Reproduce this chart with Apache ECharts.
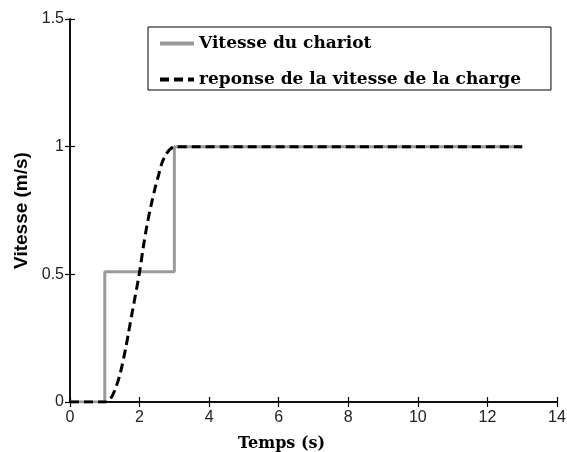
<!DOCTYPE html>
<html>
<head>
<meta charset="utf-8">
<script src="https://cdn.jsdelivr.net/npm/echarts@6/dist/echarts.min.js"></script>
<style>
  html, body { margin: 0; padding: 0; background: #fff; }
  #chart { width: 567px; height: 452px; }
</style>
</head>
<body>
<div id="chart"></div>
<script>
// vitesse du chariot (echelons) et reponse de la charge
let chariot = [[0, 0], [1, 0], [1, 0.51], [3, 0.51], [3, 1], [13, 1]];
let charge = [
  [0, 0], [1, 0], [1.15, 0.01], [1.3, 0.05], [1.44, 0.11], [1.6, 0.21],
  [1.68, 0.27], [1.8, 0.36], [1.99, 0.5], [2.1, 0.6], [2.21, 0.69],
  [2.33, 0.77], [2.45, 0.84], [2.55, 0.89], [2.64, 0.935], [2.76, 0.97],
  [2.88, 0.99], [3, 1], [13, 1]
];
let seriesNames = ['Vitesse du chariot', 'reponse de la vitesse de la charge'];
let xName = 'Temps (s)';
let yName = 'Vitesse (m/s)';

let myChart = echarts.init(document.getElementById('chart'));

let serif = 'DejaVu Serif, Times New Roman, serif';
let axisLine = { show: true, lineStyle: { color: '#000', width: 1.5 } };
let tickIn = { show: true, inside: true, length: 5, lineStyle: { color: '#000', width: 1.2 } };
let labelStyle = { color: '#222', fontSize: 16, fontFamily: 'Liberation Sans, Arial, sans-serif' };

let option = {
  animation: false,
  grid: { left: 70, right: 10, top: 19, bottom: 50, outerBoundsMode: 'none' },
  legend: {
    data: seriesNames,
    orient: 'vertical',
    left: 148,
    top: 27,
    selectedMode: false,
    borderColor: '#000',
    borderWidth: 1,
    padding: [8, 30, 2, 10],
    itemWidth: 34,
    itemHeight: 14,
    itemGap: 19,
    itemStyle: { opacity: 0 },
    lineStyle: { width: 4 },
    textStyle: {
      color: '#000',
      fontSize: 17,
      fontWeight: 'bold',
      fontFamily: serif
    }
  },
  xAxis: [
    {
      type: 'value', min: 0, max: 14, interval: 2,
      axisLine: axisLine, axisTick: tickIn, splitLine: { show: false },
      axisLabel: Object.assign({ margin: 8 }, labelStyle),
      name: xName, nameLocation: 'middle', nameGap: 34,
      nameTextStyle: {
        color: '#000', fontSize: 16, fontWeight: 'bold',
        fontFamily: serif,
        padding: [0, 64, 0, 0]
      }
    },
    {
      type: 'value', min: 0, max: 14, interval: 2, position: 'top',
      axisLine: axisLine, axisTick: tickIn, axisLabel: { show: false }, splitLine: { show: false }
    }
  ],
  yAxis: [
    {
      type: 'value', min: 0, max: 1.5, interval: 0.5,
      axisLine: axisLine, axisTick: tickIn, splitLine: { show: false },
      axisLabel: Object.assign({ margin: 6 }, labelStyle),
      name: yName, nameLocation: 'middle', nameGap: 38,
      nameTextStyle: {
        color: '#000', fontSize: 19, fontWeight: 'bold',
        fontFamily: 'Liberation Sans, Arial, sans-serif'
      }
    },
    {
      type: 'value', min: 0, max: 1.5, interval: 0.5, position: 'right',
      axisLine: axisLine, axisTick: tickIn, axisLabel: { show: false }, splitLine: { show: false }
    }
  ],
  series: [
    {
      name: seriesNames[0],
      type: 'line',
      data: chariot,
      symbol: 'none',
      itemStyle: { color: '#9a9a9a' },
      lineStyle: { color: '#9a9a9a', width: 3 }
    },
    {
      name: seriesNames[1],
      type: 'line',
      data: charge,
      symbol: 'none',
      smooth: 0.3,
      itemStyle: { color: '#000' },
      lineStyle: { color: '#000', width: 3, type: [9, 5] }
    }
  ]
};

myChart.setOption(option);
</script>
</body>
</html>
